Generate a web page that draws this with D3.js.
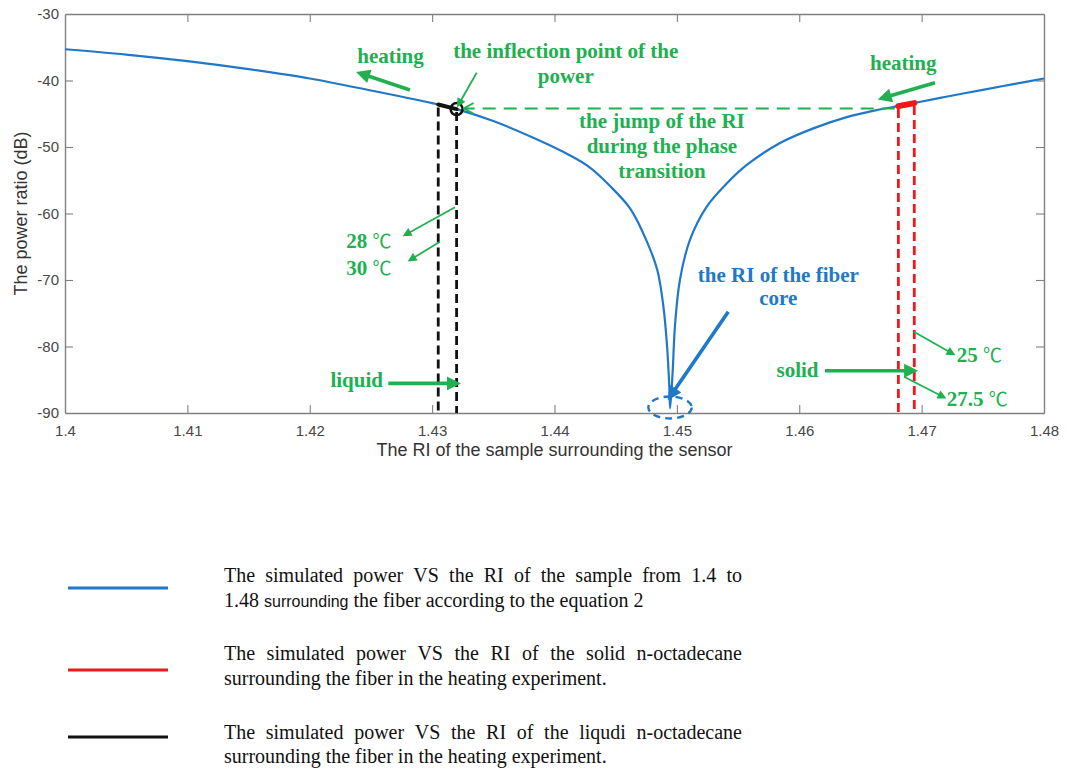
<!DOCTYPE html>
<html>
<head>
<meta charset="utf-8">
<script src="https://cdn.jsdelivr.net/npm/d3@7"></script>
<style>
  body { margin: 0; background: #fff; }
  svg { display: block; }
</style>
</head>
<body>
<svg id="chart" width="1074" height="769"></svg>
<script>
// simulated power vs RI
const riValues = [1.4000, 1.4050, 1.4100, 1.4150, 1.4200, 1.4250, 1.4300, 1.4320, 1.4350, 1.4385,
  1.4412, 1.4429, 1.4445, 1.4462, 1.4475, 1.4484, 1.4489, 1.4492, 1.44938, 1.44945,
  1.44965, 1.44984, 1.45025, 1.45106, 1.45243, 1.45407, 1.45571, 1.45843, 1.46115, 1.46388,
  1.46633, 1.4681, 1.4695, 1.4720, 1.4750, 1.4775, 1.4800];
const powerValues = [-35.3, -36.1, -37.1, -38.3, -39.7, -41.5, -43.4, -44.3, -46.1, -48.8,
  -51.2, -53.1, -55.8, -59.3, -64.0, -68.5, -74.0, -80.0, -86.0, -89.3,
  -84.0, -77.0, -70.0, -64.0, -59.0, -55.5, -52.7, -49.4, -47.2, -45.5,
  -44.45, -43.85, -43.35, -42.45, -41.4, -40.55, -39.7];

// solid and liquid n-octadecane segments
const solidRI = [1.4681, 1.4694];
const solidPower = [-43.85, -43.4];
const liquidRI = [1.4305, 1.4320];
const liquidPower = [-43.6, -44.3];

const xTicks = [1.40, 1.41, 1.42, 1.43, 1.44, 1.45, 1.46, 1.47, 1.48];
const xTickLabels = ['1.4', '1.41', '1.42', '1.43', '1.44', '1.45', '1.46', '1.47', '1.48'];
const yTicks = [-90, -80, -70, -60, -50, -40, -30];

const legendTexts = [
  ['The simulated power VS the RI of the sample from 1.4 to', '1.48 |surrounding| the fiber according to the equation 2'],
  ['The simulated power VS the RI of the solid n-octadecane', 'surrounding the fiber in the heating experiment.'],
  ['The simulated power VS the RI of the liqudi n-octadecane', 'surrounding the fiber in the heating experiment.']
];

const green = '#20b050';
const blue = '#1f78c8';

const svg = d3.select('#chart');
const margin = { top: 14, right: 30, bottom: 356, left: 65 };
const width = 1074 - margin.left - margin.right;
const height = 769 - margin.top - margin.bottom;

const x = d3.scaleLinear().domain([1.4, 1.48]).range([margin.left, margin.left + width]);
const y = d3.scaleLinear().domain([-90, -30]).range([margin.top + height, margin.top]);

// markers
const defs = svg.append('defs');
function marker(id, color, w, h, open) {
  const m = defs.append('marker')
    .attr('id', id)
    .attr('viewBox', '0 0 10 10')
    .attr('refX', open ? 9 : 7).attr('refY', 5)
    .attr('markerUnits', 'userSpaceOnUse')
    .attr('markerWidth', w).attr('markerHeight', h)
    .attr('orient', 'auto');
  m.append('path')
    .attr('d', open ? 'M1,0.5 L9,5 L1,9.5' : 'M0,0 L10,5 L0,10 z')
    .attr('fill', open ? 'none' : color)
    .attr('stroke', open ? color : 'none')
    .attr('stroke-width', open ? 1.6 : 0);
}
marker('headThick', green, 17, 14, false);
marker('headThin', green, 11, 9, false);
marker('headOpen', green, 12, 12, true);
marker('headBlue', blue, 17, 14, false);

// axes
const axisColor = '#808080';
const tickFont = '"Liberation Sans", Arial, sans-serif';

const xAxis = svg.append('g')
  .attr('transform', `translate(0,${margin.top + height})`)
  .call(d3.axisBottom(x).tickValues(xTicks).tickSizeInner(-8).tickSizeOuter(0)
    .tickPadding(12).tickFormat((d, i) => xTickLabels[i]));
const yAxis = svg.append('g')
  .attr('transform', `translate(${margin.left},0)`)
  .call(d3.axisLeft(y).tickValues(yTicks).tickSizeInner(-8).tickSizeOuter(0)
    .tickPadding(6).tickFormat(d => String(d)));
const xTop = svg.append('g')
  .attr('transform', `translate(0,${margin.top})`)
  .call(d3.axisTop(x).tickValues(xTicks).tickSizeInner(-8).tickSizeOuter(0).tickFormat(''));
const yRight = svg.append('g')
  .attr('transform', `translate(${margin.left + width},0)`)
  .call(d3.axisRight(y).tickValues(yTicks).tickSizeInner(-8).tickSizeOuter(0).tickFormat(''));

[xAxis, yAxis, xTop, yRight].forEach(a => {
  a.select('.domain').attr('stroke', axisColor).attr('stroke-width', 1.4);
  a.selectAll('.tick line').attr('stroke', axisColor).attr('stroke-width', 1.1);
  a.selectAll('.tick text').attr('fill', '#474747').style('font-family', tickFont).style('font-size', '15px');
});
// drop the first/last inner ticks that sit on the box corners
xAxis.selectAll('.tick line').filter(d => d === 1.4 || d === 1.48).remove();
xTop.selectAll('.tick line').filter(d => d === 1.4 || d === 1.48).remove();
yAxis.selectAll('.tick line').filter(d => d === -90 || d === -30).remove();
yRight.selectAll('.tick line').filter(d => d === -90 || d === -30).remove();

svg.append('text')
  .attr('x', margin.left + width / 2).attr('y', margin.top + height + 43)
  .attr('text-anchor', 'middle').attr('fill', '#333')
  .style('font-family', tickFont).style('font-size', '18px')
  .text('The RI of the sample surrounding the sensor');
svg.append('text')
  .attr('transform', `translate(27,${margin.top + height / 2}) rotate(-90)`)
  .attr('text-anchor', 'middle').attr('fill', '#333')
  .style('font-family', tickFont).style('font-size', '18px')
  .text('The power ratio (dB)');

// curve
const curveData = riValues.map((r, i) => ({ r: r, p: powerValues[i] }));
const line = d3.line().x(d => x(d.r)).y(d => y(d.p)).curve(d3.curveCatmullRom.alpha(0.5));
svg.append('path')
  .datum(curveData)
  .attr('fill', 'none').attr('stroke', blue).attr('stroke-width', 2.2)
  .attr('d', line);

// dashed verticals
function verticals(ris, powers, color) {
  svg.selectAll(null)
    .data(ris.map((r, i) => ({ r: r, p: powers[i] })))
    .enter().append('line')
    .attr('x1', d => x(d.r)).attr('x2', d => x(d.r))
    .attr('y1', d => y(d.p) + 3).attr('y2', y(-90))
    .attr('stroke', color).attr('stroke-width', 2.8)
    .attr('stroke-dasharray', '9,5');
}
verticals(liquidRI, liquidPower, '#111');
verticals(solidRI, solidPower, '#f01818');

const segLine = d3.line().x(d => x(d.r)).y(d => y(d.p));
svg.append('path')
  .datum(solidRI.map((r, i) => ({ r: r, p: solidPower[i] })))
  .attr('fill', 'none').attr('stroke', '#f01818').attr('stroke-width', 6)
  .attr('stroke-linecap', 'round').attr('d', segLine);
svg.append('path')
  .datum(liquidRI.map((r, i) => ({ r: r, p: liquidPower[i] })))
  .attr('fill', 'none').attr('stroke', '#111').attr('stroke-width', 4)
  .attr('stroke-linecap', 'round').attr('d', segLine);
svg.append('circle')
  .attr('cx', x(liquidRI[1])).attr('cy', y(liquidPower[1])).attr('r', 6)
  .attr('fill', 'none').attr('stroke', '#111').attr('stroke-width', 2.5);

// green dashed jump line (drawn right to left so the head sits at the left)
svg.append('line')
  .attr('x1', x(1.4678)).attr('y1', y(-44.2))
  .attr('x2', x(1.4326)).attr('y2', y(-44.2))
  .attr('stroke', green).attr('stroke-width', 2)
  .attr('stroke-dasharray', '13,8')
  .attr('marker-end', 'url(#headOpen)');

// blue dashed ellipse at the core RI
svg.append('ellipse')
  .attr('cx', x(1.44944)).attr('cy', y(-89.17))
  .attr('rx', x(1.40177) - x(1.4)).attr('ry', y(-90) - y(-88.35))
  .attr('fill', 'none').attr('stroke', blue).attr('stroke-width', 2.4)
  .attr('stroke-dasharray', '7,5');

// arrows: [x1, y1, x2, y2, kind]
const arrows = [
  [1.42819, -41.43, 1.42411, -38.92, 'thick'],
  [1.47109, -40.33, 1.46674, -42.68, 'thick'],
  [1.43364, -38.83, 1.43214, -43.68, 'thin'],
  [1.43187, -59.07, 1.42778, -63.23, 'thin'],
  [1.43064, -64.24, 1.42819, -66.99, 'thin'],
  [1.42642, -85.55, 1.43201, -85.55, 'thick'],
  [1.46210, -83.64, 1.46937, -83.64, 'thick'],
  [1.46937, -77.77, 1.47257, -81.13, 'thin'],
  [1.46856, -84.54, 1.47183, -87.64, 'thin'],
  [1.45420, -74.77, 1.44944, -87.55, 'blue']
];
svg.selectAll(null).data(arrows).enter().append('line')
  .attr('x1', d => x(d[0])).attr('y1', d => y(d[1]))
  .attr('x2', d => x(d[2])).attr('y2', d => y(d[3]))
  .attr('stroke', d => d[4] === 'blue' ? blue : green)
  .attr('stroke-width', d => d[4] === 'thin' ? 1.8 : 3.6)
  .attr('marker-end', d => d[4] === 'thin' ? 'url(#headThin)' : d[4] === 'blue' ? 'url(#headBlue)' : 'url(#headThick)');

// annotation texts: [text, ri, power, anchor, color]
const notes = [
  ['heating', 1.42660, -37.37, 'middle', green],
  ['the inflection point of the', 1.44092, -36.66, 'middle', green],
  ['power', 1.44092, -40.42, 'middle', green],
  ['heating', 1.46850, -38.42, 'middle', green],
  ['the jump of the RI', 1.44878, -47.19, 'middle', green],
  ['during the phase', 1.44878, -50.95, 'middle', green],
  ['transition', 1.44878, -54.71, 'middle', green],
  ['28 |\u2103', 1.42484, -65.23, 'middle', green],
  ['30 |\u2103', 1.42484, -69.25, 'middle', green],
  ['liquid', 1.42384, -86.04, 'middle', green],
  ['solid', 1.45986, -84.63, 'middle', green],
  ['25 |\u2103', 1.47287, -82.29, 'start', green],
  ['27.5 |\u2103', 1.47205, -88.95, 'start', green],
  ['the RI of the fiber', 1.45829, -70.26, 'middle', blue],
  ['core', 1.45829, -73.76, 'middle', blue]
];
const noteText = svg.selectAll(null).data(notes).enter().append('text')
  .attr('x', d => x(d[1])).attr('y', d => y(d[2]))
  .attr('text-anchor', d => d[3])
  .attr('fill', d => d[4])
  .style('font-family', '"Liberation Serif", "Times New Roman", serif')
  .style('font-weight', 'bold').style('font-size', '21px');
noteText.each(function (d) {
  const parts = d[0].split('|');
  const t = d3.select(this);
  t.append('tspan').text(parts[0]);
  if (parts[1]) {
    t.append('tspan')
      .style('font-family', '"Noto Sans CJK SC", "DejaVu Sans", sans-serif')
      .style('font-weight', 'normal').style('font-size', '19px')
      .text(parts[1]);
  }
});

// legend
const serif = '"Liberation Serif", "Times New Roman", serif';
const legendColors = [blue, '#f01818', '#111'];
const legendRows = [588, 670, 737];
const textLeft = 224, textRight = 742;
legendColors.forEach((c, i) => {
  svg.append('line')
    .attr('x1', 68).attr('x2', 168)
    .attr('y1', legendRows[i]).attr('y2', legendRows[i])
    .attr('stroke', c).attr('stroke-width', 3);
});
function justified(str, yb) {
  const words = str.split(' ');
  const nodes = words.map(w => svg.append('text')
    .attr('y', yb).attr('fill', '#111')
    .style('font-family', serif).style('font-size', '20px').text(w));
  const widths = nodes.map(n => n.node().getComputedTextLength());
  const gap = (textRight - textLeft - d3.sum(widths)) / (words.length - 1);
  let cx = textLeft;
  nodes.forEach((n, i) => { n.attr('x', cx); cx += widths[i] + gap; });
}
const baselines = [[582, 607], [660, 685], [739, 763]];
legendTexts.forEach((pair, i) => {
  justified(pair[0], baselines[i][0]);
  const t = svg.append('text')
    .attr('x', textLeft).attr('y', baselines[i][1]).attr('fill', '#111')
    .style('font-family', serif).style('font-size', '20px');
  pair[1].split('|').forEach((part, k) => {
    t.append('tspan')
      .style('font-family', k === 1 ? '"Liberation Sans", Arial, sans-serif' : serif)
      .style('font-size', k === 1 ? '16px' : '20px')
      .text(part);
  });
});
</script>
</body>
</html>
